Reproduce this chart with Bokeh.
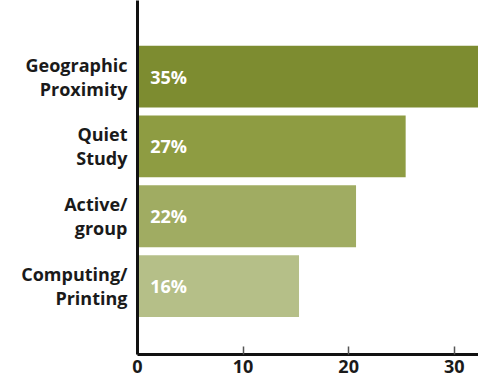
from bokeh.plotting import figure
from bokeh.models import ColumnDataSource, FixedTicker, Range1d
from bokeh.core.properties import value
from bokeh.embed import file_html
from bokeh.resources import INLINE

categories = ["Computing/\nPrinting", "Active/\ngroup", "Quiet\nStudy", "Geographic\nProximity"]
bar_values = [15.3, 20.7, 25.4, 35.0]
pct_labels = ["16%", "22%", "27%", "35%"]
bar_colors = ["#b5bf88", "#a0ac62", "#8e9c42", "#7d8c30"]
x_ticks = [0, 10, 20, 30]

FONT = "Open Sans"

ypos = list(range(1, len(categories) + 1))
src = ColumnDataSource(dict(y=ypos, v=bar_values, lab=pct_labels, c=bar_colors,
                            lx=[1.2] * len(ypos)))

p = figure(width=478, height=377, output_backend="svg", toolbar_location=None,
           x_range=Range1d(0, 32.3), y_range=Range1d(0.02, 5.09),
           min_border_left=137, min_border_right=0, min_border_top=0, min_border_bottom=23)
p.outline_line_color = None
p.grid.visible = False
p.background_fill_color = "white"
p.border_fill_color = "white"

p.hbar(y="y", left=0, right="v", height=0.886, color="c", line_color=None, source=src)
p.text(x="lx", y="y", text="lab", source=src, text_color="white",
       text_font=value(FONT), text_font_style="bold", text_font_size="18px",
       text_align="left", text_baseline="middle")

xa = p.xaxis[0]
xa.ticker = FixedTicker(ticks=x_ticks)
xa.axis_line_width = 3
xa.axis_line_color = "#111111"
xa.major_tick_in = 8
xa.major_tick_out = 0
xa.major_tick_line_color = "#555555"
xa.major_tick_line_width = 1.5
xa.minor_tick_line_color = None
xa.major_label_text_font = FONT
xa.major_label_text_font_style = "bold"
xa.major_label_text_font_size = "18px"
xa.major_label_text_color = "#1a1a1a"
xa.major_label_standoff = 5

ya = p.yaxis[0]
ya.ticker = FixedTicker(ticks=ypos)
ya.major_label_overrides = {y: c for y, c in zip(ypos, categories)}
ya.axis_line_width = 3
ya.axis_line_color = "#111111"
ya.major_tick_line_color = None
ya.minor_tick_line_color = None
ya.major_tick_in = 0
ya.major_tick_out = 0
ya.major_label_text_font = FONT
ya.major_label_text_font_style = "bold"
ya.major_label_text_font_size = "18px"
ya.major_label_text_color = "#1a1a1a"
ya.major_label_text_line_height = 1.0
ya.major_label_standoff = 10

open("out.html", "w").write(file_html(p, INLINE))
